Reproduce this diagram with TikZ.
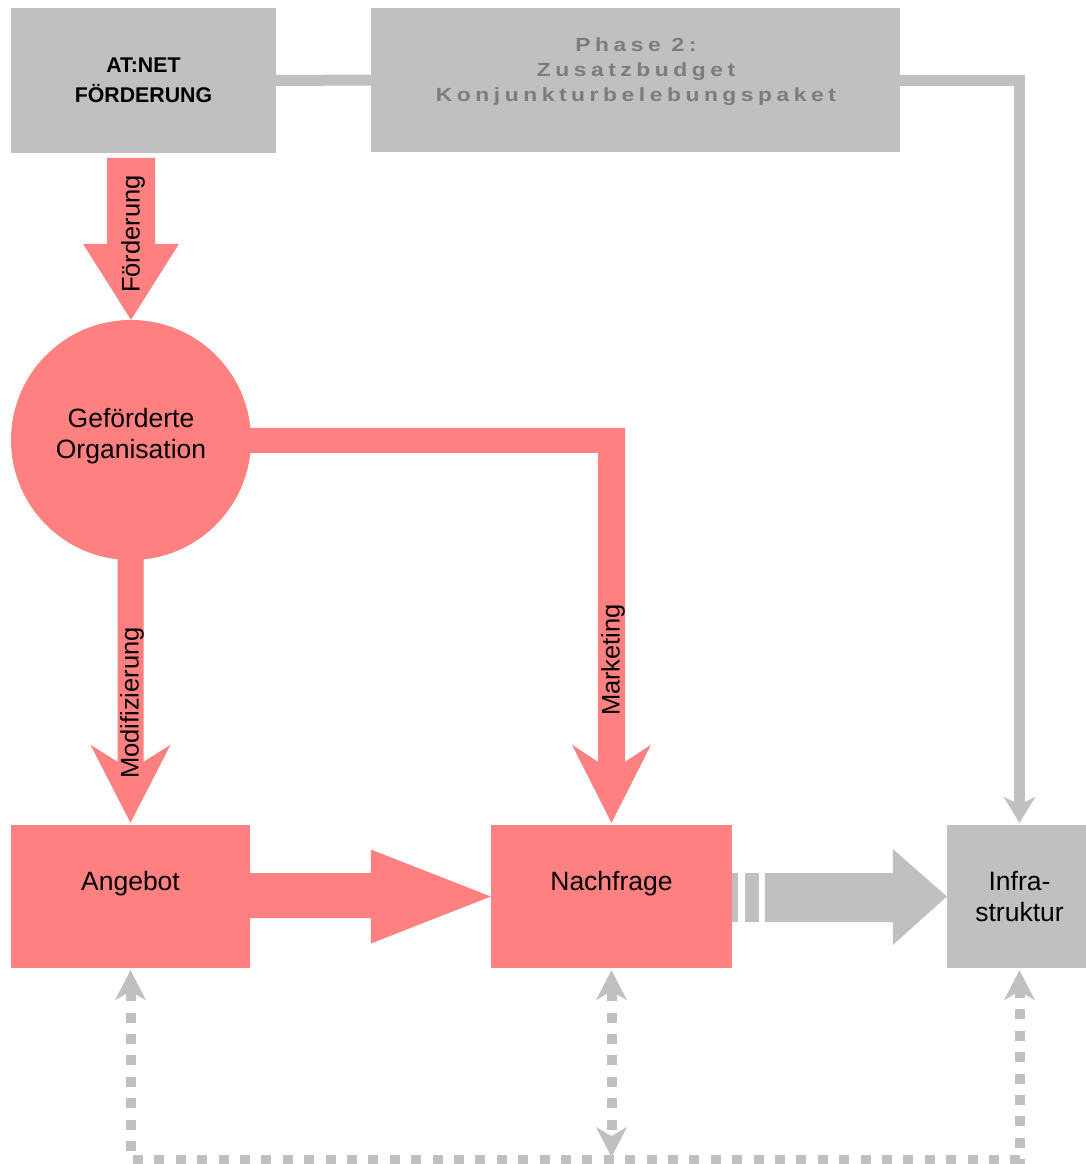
\documentclass[tikz,border=0pt]{standalone}
\usepackage{fontspec}
\setmainfont{Liberation Sans}
\newfontfamily\phasefont[LetterSpace=20]{Liberation Sans Bold}
\usetikzlibrary{arrows.meta,calc}
\definecolor{boxgray}{RGB}{192,192,192}
\definecolor{redfill}{RGB}{255,128,128}
\definecolor{phasetext}{RGB}{124,124,124}
\begin{document}
\begin{tikzpicture}[x=1pt,y=-1pt,
  graybox/.style={rectangle, fill=boxgray, inner sep=0pt},
  redbox/.style={rectangle, fill=redfill, inner sep=0pt},
  lbl/.style={font=\fontsize{26.5}{30.5}\selectfont, align=center},
  vlbl/.style={font=\fontsize{25.5}{30}\selectfont, rotate=90, inner sep=0pt},
  grayline/.style={draw=boxgray, line width=11pt},
  dotline/.style={draw=boxgray, line width=10pt, dash pattern=on 10pt off 11.4pt},
  graytip/.tip={Stealth[length=26pt,width=32pt,inset=8pt,line width=0pt]},
  dottip/.tip={Stealth[length=30pt,width=31pt,inset=9pt,line width=0pt]},
]
\useasboundingbox (0,0) rectangle (1085,1164);
\fill[white] (0,0) rectangle (1085,1164);

% boxes
\node[graybox, minimum width=265pt, minimum height=145pt,
      font=\bfseries\fontsize{21.3}{30}\selectfont, align=center] (atnet) at (143.5,80.5) {AT:NET\\FÖRDERUNG};
\node[graybox, minimum width=529pt, minimum height=144pt] (phase) at (635.5,80) {};
\node[font=\phasefont\fontsize{19}{25}\selectfont, text=phasetext, align=center, inner sep=0pt,
      xscale=1.2, transform shape]
      (phasetxt) at (636,72) {Phase 2:\\Zusatzbudget\\Konjunkturbelebungspaket};
\node[circle, fill=redfill, minimum size=240pt, inner sep=0pt] (org) at (131,440) {};
\node[lbl, inner sep=0pt] (orgtxt) at (131,436) {Geförderte\\Organisation};
\node[redbox, minimum width=239pt, minimum height=143pt, lbl] (angebot) at (130.5,896.5) {Angebot\\\mbox{}};
\node[redbox, minimum width=241pt, minimum height=143pt, lbl] (nachfrage) at (611.5,896.5) {Nachfrage\\\mbox{}};
\node[graybox, minimum width=145pt, minimum height=143pt, lbl] (infra) at (1019.5,896.5) {Infra-\\struktur};

% gray solid connector
\draw[grayline] (atnet.east) -- (phase.west);
\draw[grayline, -{graytip}] (phase.east) -| ($(infra.north)+(0,-2)$);

% red block arrows
\fill[redfill, shift={(org.north)}] (-24,-162) -- (24,-162) -- (24,-76) -- (48,-76) -- (0,0) -- (-48,-76) -- (-24,-76) -- cycle;
\fill[redfill, shift={(angebot.north)}] (-13,-270) -- (13,-270) -- (13,-63) -- (40,-80) -- (0,-2) -- (-40,-80) -- (-13,-63) -- cycle;
\fill[redfill, shift={(nachfrage.north)}] (-380,-397) -- (13.5,-397) -- (13.5,-63) -- (39.5,-80) -- (0,-2) -- (-39.5,-80) -- (-13.5,-63) -- (-13.5,-372) -- (-380,-372) -- cycle;
\fill[redfill, shift={(nachfrage.west)}] (-245,-23.5) -- (-120,-23.5) -- (-120,-47) -- (0,0) -- (-120,47) -- (-120,21.5) -- (-245,21.5) -- cycle;

% gray block arrow Nachfrage -> Infrastruktur
\fill[boxgray, shift={(infra.west)}] (-215,-23.5) rectangle (-209,25.5);
\fill[boxgray, shift={(infra.west)}] (-202,-23.5) rectangle (-188,25.5);
\fill[boxgray, shift={(infra.west)}] (-182,-23.5) -- (-54,-23.5) -- (-54,-47.5) -- (0,0) -- (-54,48.5) -- (-54,25.5) -- (-182,25.5) -- cycle;

% vertical labels
\node[vlbl] (lfoerd) at (133,234) {Förderung};
\node[vlbl] (lmod) at (132,703) {Modifizierung};
\node[vlbl] (lmark) at (613,660) {Marketing};

% dotted feedback lines
\coordinate (bot) at (0,1160);
\draw[dotline, {dottip}-{dottip}] ($(angebot.south)+(0,2)$) -- (angebot.south |- bot) -- (infra.south |- bot) -- ($(infra.south)+(0,2)$);
\draw[dotline, {dottip}-{dottip}] ($(nachfrage.south)+(0,2)$) -- ($(nachfrage.south |- bot)+(0,-3)$);
\end{tikzpicture}
\end{document}
